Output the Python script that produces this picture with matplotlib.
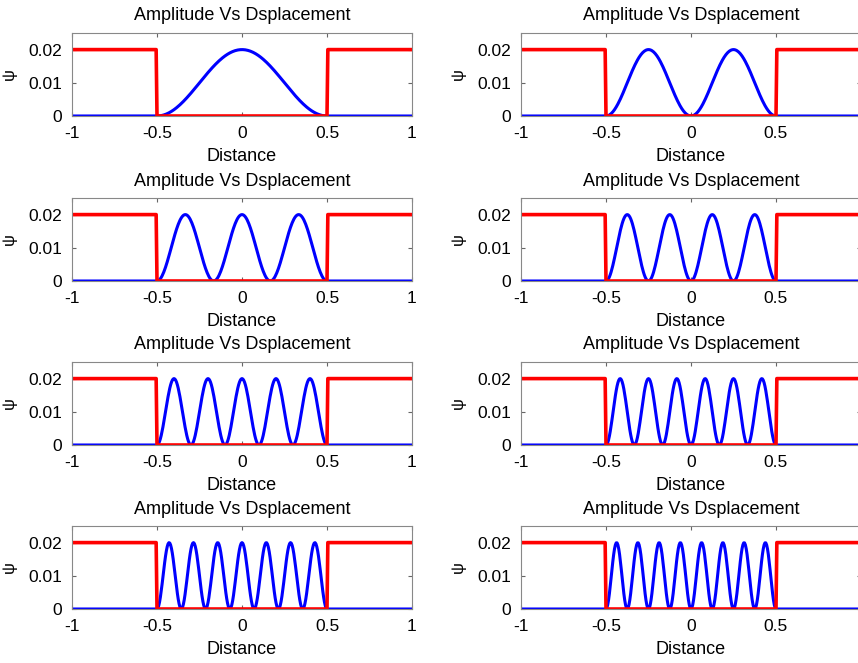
import numpy as np
import matplotlib
matplotlib.use("Agg")
import matplotlib.pyplot as plt

plt.rcParams['font.family'] = ['Liberation Sans', 'DejaVu Sans']

# particle in a box, states n = 1..8, |psi|^2 scaled to 0.02
quantum_numbers = [1, 2, 3, 4, 5, 6, 7, 8]
well_edges = [-0.5, 0.5]
peak_density = 0.02
barrier_height = 0.02
x_ticks = [-1, -0.5, 0, 0.5, 1]
x_tick_labels = ["-1", "-0.5", "0", "0.5", "1"]
y_ticks = [0, 0.01, 0.02]
y_tick_labels = ["0", "0.01", "0.02"]

x = np.linspace(-1, 1, 401)
inside = (x >= well_edges[0]) & (x <= well_edges[1])
potential = np.where(inside, 0.0, barrier_height)

W, H = 858, 663
fig = plt.figure(figsize=(W / 100, H / 100), dpi=100)

col_left = [72, 521]
row_top = [33, 198, 362, 526]
ax_w, ax_h = 340, 83

for i, n in enumerate(quantum_numbers):
    r, c = divmod(i, 2)
    left = col_left[c] / W
    bottom = 1 - (row_top[r] + ax_h) / H
    ax = fig.add_axes([left, bottom, ax_w / W, ax_h / H])

    L = well_edges[1] - well_edges[0]
    dens = np.where(inside, peak_density * np.sin(n * np.pi * (x - well_edges[0]) / L) ** 2, 0.0)
    ax.plot(x, dens, color="#0000ff", linewidth=2.2)
    ax.plot(x, potential, color="#ff0000", linewidth=2.6)

    ax.set_xlim(-1, 1)
    ax.set_ylim(0, 0.025)
    ax.set_xticks(x_ticks)
    ax.set_xticklabels(x_tick_labels)
    ax.set_yticks(y_ticks)
    ax.set_yticklabels(y_tick_labels)
    ax.tick_params(direction="in", top=True, right=True, labelsize=12.5,
                   length=3, color="#666666", pad=7)
    for s in ax.spines.values():
        s.set_color("#888888")
    ax.set_title("Amplitude Vs Dsplacement", fontsize=13, pad=9)
    ax.set_xlabel("Distance", fontsize=13, labelpad=5)
    ax.set_ylabel("\u03c8", fontsize=12, labelpad=8)

fig.savefig("out.png", dpi=100)
